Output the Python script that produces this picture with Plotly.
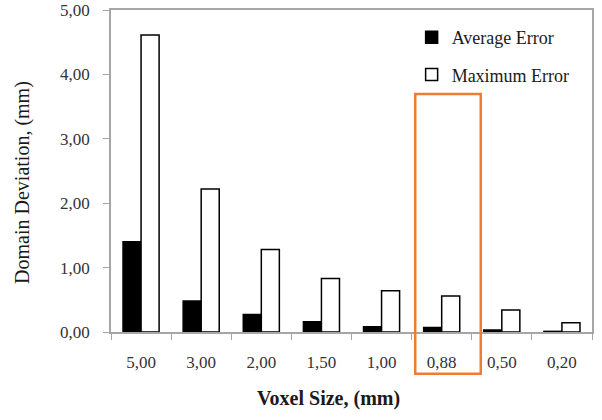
import plotly.graph_objects as go

voxel_sizes = ["5,00", "3,00", "2,00", "1,50", "1,00", "0,88", "0,50", "0,20"]
average_error = [1.40, 0.48, 0.27, 0.16, 0.08, 0.07, 0.03, 0.01]
maximum_error = [4.61, 2.22, 1.28, 0.83, 0.64, 0.56, 0.34, 0.145]
y_ticks = [0, 1, 2, 3, 4, 5]
y_tick_labels = ["0,00", "1,00", "2,00", "3,00", "4,00", "5,00"]
highlight = "0,88"

SERIF = "Liberation Serif, Times New Roman, serif"
GREY = "#a6a6a6"

fig = go.Figure()
fig.add_trace(go.Bar(
    x=voxel_sizes, y=average_error, name="Average Error",
    marker=dict(color="black", line=dict(color="black", width=1.5)),
    legendgroup="a",
))
fig.add_trace(go.Bar(
    x=voxel_sizes, y=maximum_error, name="Maximum Error",
    marker=dict(color="white", line=dict(color="black", width=1.5)),
    legendgroup="b",
))

n = len(voxel_sizes)
idx = voxel_sizes.index(highlight)
fig.add_shape(
    type="rect", xref="paper", yref="paper",
    x0=(idx + 0.06) / n, x1=(idx + 1.15) / n, y0=-0.130, y1=0.739,
    line=dict(color="#ED7D31", width=2.5), fillcolor="rgba(0,0,0,0)",
)

fig.add_annotation(
    text="<b>Voxel Size, (mm)</b>", xref="paper", yref="paper",
    x=0.453, y=-0.208, xanchor="center", yanchor="middle", showarrow=False,
    font=dict(family=SERIF, size=20, color="#1a1a1a"),
)
fig.add_annotation(
    text="Domain Deviation, (mm)", xref="paper", yref="paper",
    x=-0.183, y=0.466, xanchor="center", yanchor="middle", showarrow=False,
    textangle=-90,
    font=dict(family=SERIF, size=20, color="#1a1a1a"),
)

fig.update_layout(
    width=602, height=420,
    margin=dict(l=111, r=10, t=10, b=88, autoexpand=False),
    paper_bgcolor="white", plot_bgcolor="white",
    barmode="group", bargap=0.4, bargroupgap=0,
    font=dict(family=SERIF, size=17, color="#333333"),
    legend=dict(
        x=0.625, y=0.972, xanchor="left", yanchor="top",
        font=dict(family=SERIF, size=18, color="#1a1a1a"),
        tracegroupgap=11, bgcolor="rgba(0,0,0,0)",
    ),
    showlegend=True,
)
fig.update_xaxes(
    type="category", tickson="boundaries", ticks="outside", ticklen=6,
    tickcolor=GREY, showline=True, linecolor=GREY, linewidth=1.5, mirror=True,
    showgrid=False, ticklabelstandoff=14, automargin=False,
    ticklabeloverflow="allow",
    tickfont=dict(family=SERIF, size=17, color="#333333"),
)
fig.update_yaxes(
    range=[0, 5], tickvals=y_ticks, ticktext=y_tick_labels,
    ticks="outside", ticklen=6, tickcolor=GREY, showline=True, linecolor=GREY,
    linewidth=1.5, mirror=True, showgrid=False, zeroline=False,
    ticklabelstandoff=10, automargin=False, ticklabeloverflow="allow",
    tickfont=dict(family=SERIF, size=17, color="#333333"),
)

fig.write_html(
    "out.html",
    config={"displayModeBar": False},
    post_script="document.body.style.margin='0';document.body.style.overflow='hidden';",
)
